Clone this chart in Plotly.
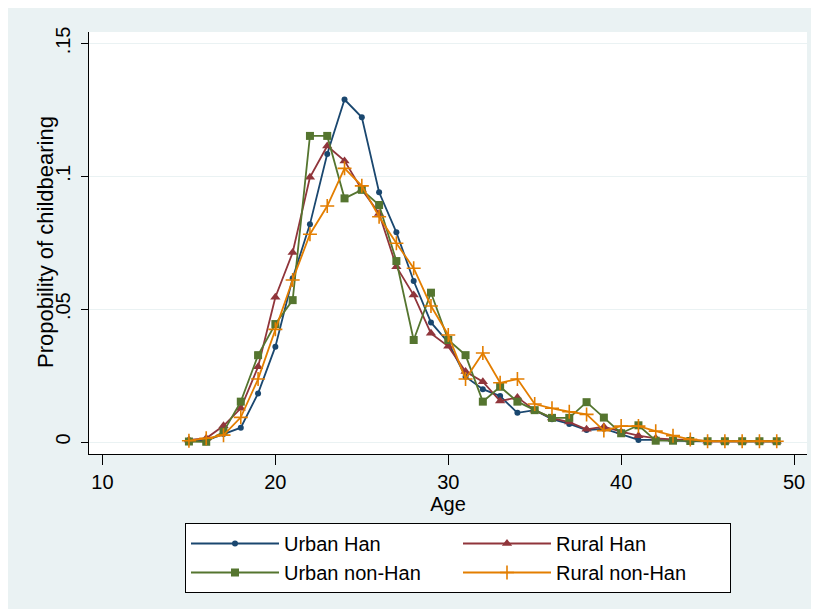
import plotly.graph_objects as go

ages = list(range(15, 50))

urban_han = [0.0003, 0.0006, 0.0030, 0.0054, 0.0183, 0.0359, 0.0616, 0.0820, 0.1084, 0.1289,
             0.1222, 0.0940, 0.0789, 0.0606, 0.0450, 0.0375, 0.0246, 0.0199, 0.0173, 0.0110,
             0.0120, 0.0086, 0.0068, 0.0045, 0.0050, 0.0030, 0.0008, 0.0008, 0.0005, 0.0004,
             0.0003, 0.0003, 0.0003, 0.0003, 0.0003]
rural_han = [0.0008, 0.0014, 0.0061, 0.0127, 0.0283, 0.0545, 0.0713, 0.0996, 0.1114, 0.1058,
             0.0950, 0.0860, 0.0660, 0.0553, 0.0409, 0.0360, 0.0265, 0.0227, 0.0154, 0.0168,
             0.0120, 0.0090, 0.0075, 0.0048, 0.0058, 0.0039, 0.0024, 0.0014, 0.0010, 0.0008,
             0.0003, 0.0003, 0.0003, 0.0003, 0.0003]
urban_nonhan = [0.0002, 0.0001, 0.0039, 0.0152, 0.0327, 0.0444, 0.0534, 0.1152, 0.1152, 0.0917,
                0.0949, 0.0892, 0.0681, 0.0384, 0.0562, 0.0384, 0.0327, 0.0152, 0.0208, 0.0152,
                0.0120, 0.0091, 0.0091, 0.0150, 0.0092, 0.0033, 0.0063, 0.0005, 0.0005, 0.0004,
                0.0003, 0.0003, 0.0003, 0.0003, 0.0003]
rural_nonhan = [0.0005, 0.0014, 0.0026, 0.0093, 0.0237, 0.0424, 0.0610, 0.0782, 0.0888, 0.1030,
                0.0964, 0.0848, 0.0748, 0.0654, 0.0512, 0.0403, 0.0237, 0.0335, 0.0223, 0.0237,
                0.0143, 0.0127, 0.0114, 0.0104, 0.0043, 0.0060, 0.0060, 0.0041, 0.0024, 0.0010,
                0.0003, 0.0003, 0.0003, 0.0003, 0.0003]

series_names = ["Urban Han", "Rural Han", "Urban non-Han", "Rural non-Han"]
x_ticks = [10, 20, 30, 40, 50]
y_ticks = [0, 0.05, 0.1, 0.15]
y_tick_labels = ["0", ".05", ".1", ".15"]
x_title = "Age"
y_title = "Propobility of childbearing"

FONT = "Arial, Liberation Sans, sans-serif"
BG = "#eaf2f3"
FS = 20

styles = [
    dict(color="#1a476f", symbol="circle", size=6, line=dict(width=0)),
    dict(color="#90353b", symbol="triangle-up", size=9, line=dict(width=0)),
    dict(color="#55752f", symbol="square", size=8, line=dict(width=0)),
    dict(color="#e37e00", symbol="cross-thin", size=10, line=dict(width=1.6, color="#e37e00")),
]
data = [urban_han, rural_han, urban_nonhan, rural_nonhan]

fig = go.Figure()
for name, ys, st in zip(series_names, data, styles):
    fig.add_trace(go.Scatter(
        x=ages, y=ys, name=name, mode="lines+markers",
        line=dict(color=st["color"], width=1.8),
        marker=st,
    ))

# The page has an 8px body margin; the figure sits at (8, 8).
OFF = 8
W, H = 803, 601
L, R, T, B = 81, 4, 24, 155
pw, ph = W - L - R, H - T - B

def px_x(p):
    return (p - OFF - L) / pw

def px_y(p):
    return (H - B - (p - OFF)) / ph

fig.update_layout(
    width=W, height=H,
    margin=dict(l=L, r=R, t=T, b=B, autoexpand=False),
    paper_bgcolor=BG,
    plot_bgcolor="white",
    font=dict(family=FONT, size=FS, color="#000000"),
    showlegend=True,
    legend=dict(
        orientation="h",
        x=px_x(185), y=px_y(523), xanchor="left", yanchor="top",
        bgcolor="white", bordercolor="#000000", borderwidth=1,
        font=dict(family=FONT, size=FS, color="#000000"),
        entrywidth=169, entrywidthmode="pixels",
        itemwidth=88,
    ),
    annotations=[dict(
        text=y_title, xref="paper", yref="paper",
        x=px_x(45), y=px_y(242), xanchor="center", yanchor="middle",
        textangle=-90, showarrow=False,
        font=dict(family=FONT, size=22, color="#000000"),
    )],
    xaxis=dict(
        range=[9.22, 50.75],
        tickmode="array", tickvals=x_ticks, ticktext=[str(v) for v in x_ticks],
        ticks="outside", ticklen=10, tickwidth=1, tickcolor="#000000",
        ticklabelstandoff=0,
        showline=True, linecolor="#000000", linewidth=1,
        showgrid=False, zeroline=False,
        title=dict(text=x_title, standoff=0, font=dict(size=FS)),
        tickfont=dict(size=FS),
    ),
    yaxis=dict(
        range=[-0.0045, 0.1543],
        tickmode="array", tickvals=y_ticks, ticktext=y_tick_labels,
        tickangle=-90,
        ticks="outside", ticklen=7, tickwidth=1, tickcolor="#000000",
        ticklabelstandoff=3,
        showline=True, linecolor="#000000", linewidth=1,
        showgrid=True, gridcolor=BG, gridwidth=1.2, zeroline=False,
        tickfont=dict(size=FS),
    ),
)

fig.write_html("out.html")
